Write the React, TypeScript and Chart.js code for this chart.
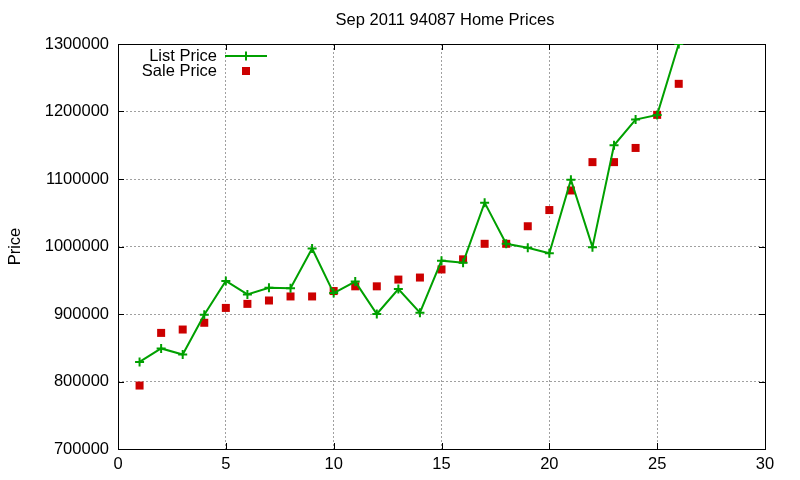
import { useEffect, useRef } from 'react';
import { Chart, registerables } from 'chart.js';

Chart.register(...registerables);

// listing number on the x axis
const listings = [1, 2, 3, 4, 5, 6, 7, 8, 9, 10, 11, 12, 13, 14, 15, 16, 17, 18, 19, 20, 21, 22, 23, 24, 25, 26];

const listPrices = [
  829000, 849000, 840000, 899000, 949000, 929000, 939000, 938000, 997000, 931000,
  948000, 900000, 937000, 902000, 979000, 976000, 1065000, 1004000, 998000, 990000,
  1099000, 999000, 1150000, 1188000, 1195000, 1300000,
];

const salePrices = [
  794000, 872000, 877000, 887000, 909000, 915000, 920000, 926000, 926000, 934000,
  941000, 941000, 951000, 954000, 966000, 981000, 1004000, 1004000, 1030000, 1054000,
  1083000, 1125000, 1125000, 1146000, 1195000, 1241000,
];

const xTicks = [0, 5, 10, 15, 20, 25, 30];
const yTicks = [700000, 800000, 900000, 1000000, 1100000, 1200000, 1300000];

const FONT = '"Liberation Sans", Arial, sans-serif';
const FONT_SIZE = 16.5;
const GREEN = '#00a000';
const RED = '#cc0000';

// gnuplot-like frame with inward ticks on all four sides
const framePlugin = {
  id: 'frame',
  beforeDatasetsDraw(chart: any) {
    const { ctx, chartArea } = chart;
    const { left, right, top, bottom } = chartArea;
    const xs = chart.scales.x;
    const ys = chart.scales.y;
    ctx.save();
    ctx.strokeStyle = '#000';
    ctx.lineWidth = 1;
    ctx.setLineDash([]);
    ctx.strokeRect(left + 0.5, top + 0.5, right - left, bottom - top);
    ctx.beginPath();
    const len = 6;
    xTicks.forEach((t) => {
      const x = Math.round(xs.getPixelForValue(t)) + 0.5;
      ctx.moveTo(x, bottom);
      ctx.lineTo(x, bottom - len);
      ctx.moveTo(x, top);
      ctx.lineTo(x, top + len);
    });
    yTicks.forEach((t) => {
      const y = Math.round(ys.getPixelForValue(t)) + 0.5;
      ctx.moveTo(left, y);
      ctx.lineTo(left + len, y);
      ctx.moveTo(right, y);
      ctx.lineTo(right - len, y);
    });
    ctx.stroke();
    ctx.restore();
  },
  afterDraw(chart: any) {
    const { ctx } = chart;
    ctx.save();
    ctx.fillStyle = '#000';
    ctx.font = `${FONT_SIZE}px ${FONT}`;
    ctx.textBaseline = 'middle';

    // title
    ctx.textAlign = 'center';
    ctx.fillText('Sep 2011 94087 Home Prices', 445, 20);

    // legend
    ctx.textAlign = 'right';
    ctx.fillText('List Price', 217, 56);
    ctx.fillText('Sale Price', 217, 71);

    ctx.strokeStyle = GREEN;
    ctx.lineWidth = 2;
    ctx.beginPath();
    ctx.moveTo(225, 56);
    ctx.lineTo(267, 56);
    ctx.moveTo(246, 51.5);
    ctx.lineTo(246, 60.5);
    ctx.stroke();

    ctx.fillStyle = RED;
    ctx.fillRect(242, 67, 8, 8);
    ctx.restore();
  },
};

export default function App() {
  const canvasRef = useRef<HTMLCanvasElement>(null);

  useEffect(() => {
    document.body.style.margin = '0';
    if (!canvasRef.current) return;

    const chart = new Chart(canvasRef.current, {
      type: 'line',
      data: {
        datasets: [
          {
            label: 'List Price',
            data: listings.map((x, i) => ({ x, y: listPrices[i] })),
            borderColor: GREEN,
            backgroundColor: GREEN,
            borderWidth: 2,
            pointStyle: 'cross',
            pointRadius: 4.5,
            pointBorderWidth: 2,
            pointHoverRadius: 4.5,
            tension: 0,
            fill: false,
          },
          {
            label: 'Sale Price',
            data: listings.map((x, i) => ({ x, y: salePrices[i] })),
            showLine: false,
            borderColor: RED,
            backgroundColor: RED,
            pointStyle: 'rect',
            pointRadius: 5.66,
            pointBorderWidth: 0,
            pointHoverRadius: 5.66,
          },
        ],
      },
      options: {
        responsive: false,
        animation: false,
        layout: { padding: { top: 44, right: 35, bottom: 0, left: 0 } },
        plugins: {
          legend: { display: false },
          title: { display: false },
          tooltip: { enabled: false },
        },
        scales: {
          x: {
            type: 'linear',
            min: 0,
            max: 30,
            afterFit: (scale: any) => {
              scale.height = 31;
            },
            ticks: {
              stepSize: 5,
              padding: 6,
              color: '#000',
              font: { family: FONT, size: FONT_SIZE },
              maxRotation: 0,
            },
            grid: { color: '#a0a0a0', drawTicks: false, lineWidth: 1 },
            border: { display: false, dash: [2, 2] },
          },
          y: {
            type: 'linear',
            min: 700000,
            max: 1300000,
            afterFit: (scale: any) => {
              scale.width = 118;
            },
            ticks: {
              stepSize: 100000,
              padding: 9,
              color: '#000',
              font: { family: FONT, size: FONT_SIZE },
              callback: (v: any) => String(v),
            },
            grid: { color: '#a0a0a0', drawTicks: false, lineWidth: 1 },
            border: { display: false, dash: [2, 2] },
            title: {
              display: true,
              text: 'Price',
              color: '#000',
              font: { family: FONT, size: FONT_SIZE },
              padding: { top: 6, bottom: 0 },
            },
          },
        },
      },
      plugins: [framePlugin],
    });

    return () => chart.destroy();
  }, []);

  return (
    <div style={{ width: 800, height: 480, background: '#fff' }}>
      <canvas ref={canvasRef} width={800} height={480}></canvas>
    </div>
  );
}
